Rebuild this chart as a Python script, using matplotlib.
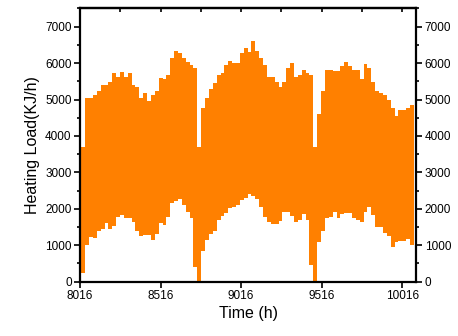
import numpy as np
import matplotlib
matplotlib.use("Agg")
import matplotlib.pyplot as plt
from matplotlib.ticker import MultipleLocator

plt.rcParams["font.family"] = ["Liberation Sans", "DejaVu Sans"]

# daily upper / lower envelope of the hourly heating load
START_HOUR = 8024
upper = [
    3690, 5030, 5050, 5125, 5235, 5400, 5400, 5490, 5720, 5627,
    5765, 5627, 5720, 5400, 5336, 5035, 5190, 4970, 5125, 5240,
    5600, 5555, 5674, 6130, 6340, 6270, 6130, 6040, 5950, 5860,
    3706, 4760, 5035, 5280, 5445, 5674, 5720, 5950, 6066, 5995,
    5995, 6270, 6405, 6314, 6616, 6340, 6130, 5950, 5610, 5610,
    5490, 5353, 5490, 5875, 5995, 5627, 5674, 5811, 5720, 5660,
    3706, 4600, 5243, 5820, 5820, 5780, 5780, 5910, 6030, 5915,
    5820, 5820, 5560, 5985, 5868, 5470, 5230, 5180, 5125, 4980,
    4770, 4548, 4713, 4713, 4780, 4860,
]
lower = [
    250, 1000, 1235, 1200, 1380, 1445, 1600, 1440, 1520, 1785,
    1830, 1760, 1760, 1647, 1390, 1260, 1285, 1285, 1145, 1318,
    1600, 1556, 1785, 2150, 2215, 2262, 2105, 1922, 1740, 400,
    0, 850, 1150, 1300, 1400, 1700, 1790, 1880, 2014, 2040,
    2100, 2230, 2290, 2400, 2360, 2270, 2040, 1785, 1630, 1575,
    1575, 1660, 1905, 1923, 1813, 1647, 1694, 1850, 1694, 450,
    0, 1100, 1400, 1740, 1785, 1923, 1740, 1850, 1877, 1877,
    1760, 1690, 1647, 1923, 2040, 1830, 1510, 1510, 1328, 1263,
    961, 1080, 1117, 1117, 1172, 1000,
]
x_ticks = [8016, 8516, 9016, 9516, 10016]

n_days = len(upper)
t = START_HOUR + 24 * np.arange(n_days + 1)
up = np.append(upper, upper[-1])
lo = np.append(lower, lower[-1])

fig = plt.figure(figsize=(4.58, 3.36), dpi=100)
ax = fig.add_axes([0.1747, 0.1616, 0.909 - 0.1747, 0.975 - 0.1616])

ax.fill_between(t, lo, up, step="post", color="#ff8000", linewidth=0)

ax.set_xlim(8016, 10103)
ax.set_ylim(0, 7500)
ax.set_xticks(x_ticks)
ax.yaxis.set_major_locator(MultipleLocator(1000))
ax.yaxis.set_minor_locator(MultipleLocator(500))
ax.set_yticks([0, 1000, 2000, 3000, 4000, 5000, 6000, 7000])

ax.tick_params(axis="x", direction="out", length=4, width=1.2, labelsize=8.5, pad=2)
ax.tick_params(axis="y", which="major", direction="out", length=4, width=1.2,
               labelsize=8.5, right=True, labelright=True, pad=2)
ax.tick_params(axis="y", which="minor", direction="out", length=2.5, width=1.2, right=True)

top = ax.secondary_xaxis("top")
top.set_xticks(np.arange(8016, 10101, 250))
top.tick_params(direction="in", length=3, width=1.2, labeltop=False)
top.spines["top"].set_linewidth(1.6)

for s in ax.spines.values():
    s.set_linewidth(1.6)

ax.set_xlabel("Time (h)", fontsize=11.5, labelpad=3)
ax.set_ylabel("Heating Load(KJ/h)", fontsize=11.5, labelpad=4)

fig.savefig("out.png", dpi=100)
